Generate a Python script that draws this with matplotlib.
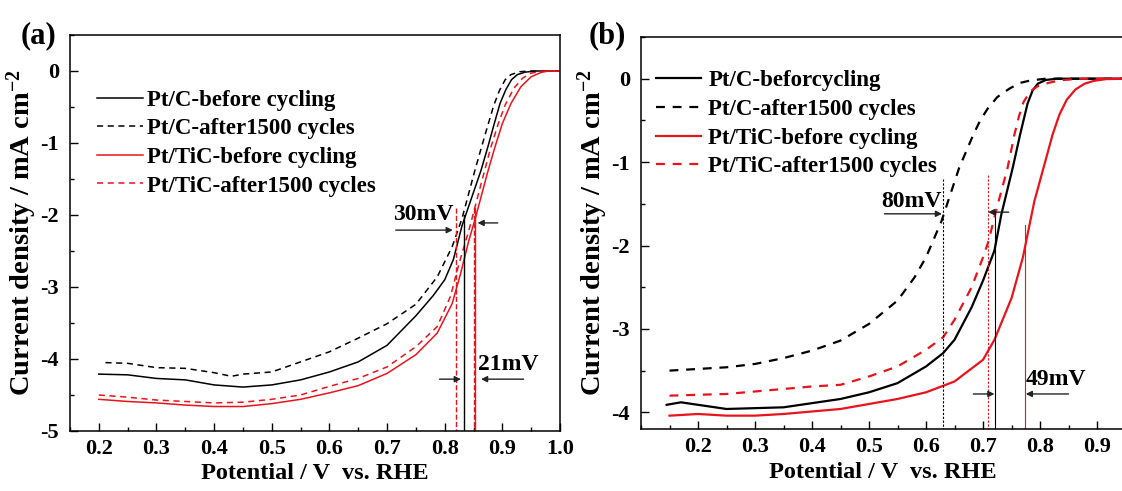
import matplotlib
matplotlib.use("Agg")
import matplotlib.pyplot as plt
from matplotlib.ticker import MultipleLocator

plt.rcParams['font.family'] = ['Liberation Serif', 'DejaVu Serif']
plt.rcParams['font.weight'] = 'bold'
plt.rcParams['mathtext.fontset'] = 'custom'
plt.rcParams['mathtext.rm'] = 'Liberation Serif:bold'
plt.rcParams['mathtext.bf'] = 'Liberation Serif:bold'
plt.rcParams['mathtext.default'] = 'rm'

RED = '#e8141c'

# ---------------- Panel (a) data ----------------
a_labels = ['Pt/C-before cycling', 'Pt/C-after1500 cycles',
            'Pt/TiC-before cycling', 'Pt/TiC-after1500 cycles']
a_pc_before_x = [0.20, 0.25, 0.30, 0.35, 0.40, 0.45, 0.50, 0.55, 0.60, 0.65, 0.70, 0.75,
                 0.78, 0.80, 0.815, 0.83, 0.845, 0.863, 0.875, 0.886, 0.896, 0.906, 0.916,
                 0.926, 0.94, 0.96, 1.00]
a_pc_before_y = [-4.21, -4.22, -4.27, -4.29, -4.36, -4.39, -4.36, -4.29, -4.18, -4.04, -3.81, -3.40,
                 -3.12, -2.90, -2.62, -2.15, -1.80, -1.38, -1.05, -0.73, -0.45, -0.26, -0.12,
                 -0.05, -0.015, 0.0, 0.0]
a_pc_after_x = [0.2115, 0.25, 0.30, 0.35, 0.40, 0.43, 0.45, 0.50, 0.55, 0.60, 0.65, 0.70, 0.75,
                0.787, 0.813, 0.83, 0.851, 0.863, 0.875, 0.885, 0.895, 0.905, 0.915, 0.93, 0.95, 1.00]
a_pc_after_y = [-4.05, -4.06, -4.12, -4.13, -4.19, -4.24, -4.21, -4.18, -4.04, -3.90, -3.71, -3.51, -3.24,
                -2.86, -2.44, -2.05, -1.42, -1.08, -0.75, -0.48, -0.27, -0.12, -0.05, -0.01, 0.0, 0.0]
a_ptc_before_x = [0.20, 0.25, 0.30, 0.35, 0.40, 0.45, 0.50, 0.55, 0.60, 0.65, 0.70, 0.75,
                  0.787, 0.813, 0.828, 0.842, 0.853, 0.874, 0.887, 0.90, 0.915, 0.932, 0.95,
                  0.967, 0.98, 1.00]
a_ptc_before_y = [-4.56, -4.59, -4.61, -4.64, -4.66, -4.66, -4.62, -4.56, -4.47, -4.37, -4.20, -3.94,
                  -3.64, -3.23, -2.80, -2.35, -2.05, -1.42, -1.06, -0.73, -0.45, -0.22, -0.08,
                  -0.02, 0.0, 0.0]
a_ptc_after_x = [0.20, 0.25, 0.30, 0.35, 0.40, 0.45, 0.50, 0.55, 0.60, 0.65, 0.70, 0.75,
                 0.787, 0.81, 0.825, 0.842, 0.868, 0.88, 0.893, 0.905, 0.92, 0.935, 0.95, 0.97, 1.00]
a_ptc_after_y = [-4.50, -4.53, -4.57, -4.59, -4.61, -4.60, -4.56, -4.50, -4.38, -4.27, -4.11, -3.83,
                 -3.55, -3.13, -2.67, -2.21, -1.42, -1.06, -0.73, -0.47, -0.24, -0.10, -0.03, 0.0, 0.0]
# half-wave potential markers (x, top y)
a_vlines = [(0.819, -1.9, RED, '--'), (0.834, -2.0, 'black', '-'),
            (0.850, -1.9, RED, '--'), (0.853, -1.9, RED, '-')]
a_xticks = [0.2, 0.3, 0.4, 0.5, 0.6, 0.7, 0.8, 0.9, 1.0]
a_yticks = [0, -1, -2, -3, -4, -5]

# ---------------- Panel (b) data ----------------
b_labels = ['Pt/C-beforcycling', 'Pt/C-after1500 cycles',
            'Pt/TiC-before cycling', 'Pt/TiC-after1500 cycles']
b_pc_before_x = [0.145, 0.17, 0.20, 0.25, 0.30, 0.35, 0.40, 0.45, 0.50, 0.55, 0.60, 0.63, 0.65,
                 0.68, 0.70, 0.72, 0.732, 0.752, 0.765, 0.778, 0.787, 0.796, 0.81, 0.83, 0.95]
b_pc_before_y = [-3.91, -3.88, -3.91, -3.96, -3.95, -3.94, -3.89, -3.84, -3.76, -3.65, -3.45, -3.29, -3.13,
                 -2.74, -2.42, -2.06, -1.63, -1.07, -0.67, -0.30, -0.14, -0.06, -0.015, 0.0, 0.0]
b_pc_after_x = [0.15, 0.20, 0.25, 0.30, 0.35, 0.40, 0.45, 0.50, 0.55, 0.58, 0.60, 0.627, 0.658,
                0.683, 0.695, 0.708, 0.725, 0.746, 0.765, 0.784, 0.81, 0.95]
b_pc_after_y = [-3.50, -3.48, -3.46, -3.42, -3.35, -3.26, -3.14, -2.94, -2.66, -2.38, -2.14, -1.71, -1.07,
                -0.67, -0.50, -0.36, -0.22, -0.12, -0.05, -0.02, 0.0, 0.0]
b_ptc_before_x = [0.15, 0.20, 0.25, 0.30, 0.35, 0.40, 0.45, 0.50, 0.55, 0.60, 0.65, 0.70, 0.72,
                  0.75, 0.77, 0.778, 0.790, 0.806, 0.822, 0.834, 0.847, 0.862, 0.878, 0.895,
                  0.916, 0.95]
b_ptc_before_y = [-4.04, -4.02, -4.04, -4.04, -4.02, -3.99, -3.96, -3.90, -3.84, -3.76, -3.63, -3.37, -3.13,
                  -2.63, -2.14, -1.87, -1.47, -1.07, -0.67, -0.43, -0.25, -0.13, -0.06, -0.025,
                  -0.005, 0.0]
b_ptc_after_x = [0.15, 0.20, 0.25, 0.30, 0.35, 0.40, 0.45, 0.50, 0.55, 0.60, 0.63, 0.65, 0.68,
                 0.70, 0.71, 0.721, 0.743, 0.755, 0.763, 0.771, 0.783, 0.796, 0.815, 0.834, 0.87, 0.95]
b_ptc_after_y = [-3.80, -3.79, -3.78, -3.75, -3.72, -3.69, -3.67, -3.57, -3.45, -3.25, -3.10, -2.89, -2.50,
                 -2.14, -1.94, -1.63, -1.07, -0.67, -0.45, -0.28, -0.15, -0.09, -0.05, -0.02, 0.0, 0.0]
b_vlines = [(0.630, -1.2, 'black', (0, (2, 1.5)), 0.8), (0.708, -1.15, RED, (0, (2, 1.5)), 0.8),
            (0.721, -1.6, 'black', '-', 0.8), (0.773, -1.75, RED, '-', 0.8)]
b_xticks = [0.2, 0.3, 0.4, 0.5, 0.6, 0.7, 0.8, 0.9]
b_yticks = [0, -1, -2, -3, -4]

W, H = 1122, 491
fig = plt.figure(figsize=(W / 100, H / 100), dpi=100)

axa = fig.add_axes([70 / W, 1 - 431 / H, (560 - 70) / W, (431 - 35) / H])
axb = fig.add_axes([641 / W, 1 - 429 / H, (1125 - 641) / W, (429 - 37) / H])


def style(ax, xticks, yticks):
    for s in ax.spines.values():
        s.set_linewidth(1.1)
    ax.set_xticks(xticks)
    ax.set_yticks(yticks)
    ax.xaxis.set_minor_locator(MultipleLocator(0.05))
    ax.yaxis.set_minor_locator(MultipleLocator(0.5))
    ax.tick_params(which='major', direction='in', length=5.5, width=1.0,
                   labelsize=16, top=False, right=False)
    ax.tick_params(which='minor', direction='in', length=3, width=1.0,
                   top=False, right=False)
    ax.tick_params(axis='y', pad=8)
    ax.tick_params(axis='x', pad=6)
    ax.set_xticklabels([f'{v:.1f}' for v in xticks], fontweight='bold')
    ax.set_yticklabels([f'{v:g}' for v in yticks], fontweight='bold')
    ax.set_xlabel('Potential / V  vs. RHE', fontsize=17.5, fontweight='bold', labelpad=3)
    ax.set_ylabel(r'Current density / mA cm$^{-2}$', fontsize=20.5, fontweight='bold', labelpad=1)


arrow_kw = dict(arrowstyle='-|>', color='#222222', lw=1.0, mutation_scale=9,
                shrinkA=0, shrinkB=0)
LEG_PROP = {'weight': 'bold', 'size': 16.5}
ANN = 17

# ---------- Panel a ----------
lwa = 1.1
axa.plot(a_pc_before_x, a_pc_before_y, color='black', lw=lwa, label=a_labels[0])
axa.plot(a_pc_after_x, a_pc_after_y, color='black', lw=lwa, ls=(0, (4, 3)), label=a_labels[1])
axa.plot(a_ptc_before_x, a_ptc_before_y, color=RED, lw=lwa, label=a_labels[2])
axa.plot(a_ptc_after_x, a_ptc_after_y, color=RED, lw=lwa, ls=(0, (4, 3)), label=a_labels[3])
for x, ytop, c, ls in a_vlines:
    axa.plot([x, x], [ytop, -5.0], color=c, ls=ls, lw=1.0)
axa.set_xlim(0.15, 1.0)
axa.set_ylim(-5.0, 0.5)
style(axa, a_xticks, a_yticks)
axa.legend(loc='upper left', bbox_to_anchor=(0.055, 0.862), frameon=False,
           handlelength=2.0, handletextpad=0.2, labelspacing=0.33, borderpad=0,
           borderaxespad=0, prop=LEG_PROP)
axa.text(0.763, -2.0, '30mV', fontsize=ANN, fontweight='bold', ha='center', va='center')
axa.annotate('', xy=(0.814, -2.21), xytext=(0.715, -2.21), arrowprops=arrow_kw)
axa.annotate('', xy=(0.857, -2.11), xytext=(0.892, -2.11), arrowprops=arrow_kw)
axa.text(0.911, -4.08, '21mV', fontsize=ANN, fontweight='bold', ha='center', va='center')
axa.annotate('', xy=(0.828, -4.28), xytext=(0.791, -4.28), arrowprops=arrow_kw)
axa.annotate('', xy=(0.863, -4.28), xytext=(0.937, -4.28), arrowprops=arrow_kw)

# ---------- Panel b ----------
lwb = 1.6
axb.plot(b_pc_before_x, b_pc_before_y, color='black', lw=lwb, label=b_labels[0])
axb.plot(b_pc_after_x, b_pc_after_y, color='black', lw=lwb, ls=(0, (4, 3.5)), label=b_labels[1])
axb.plot(b_ptc_before_x, b_ptc_before_y, color=RED, lw=lwb, label=b_labels[2])
axb.plot(b_ptc_after_x, b_ptc_after_y, color=RED, lw=lwb, ls=(0, (4, 3.5)), label=b_labels[3])
for x, ytop, c, ls, lw in b_vlines:
    axb.plot([x, x], [ytop, -4.2], color=c, ls=ls, lw=lw)
axb.set_xlim(0.1, 0.949)
axb.set_ylim(-4.2, 0.5)
style(axb, b_xticks, b_yticks)
axb.legend(loc='upper left', bbox_to_anchor=(0.03, 0.915), frameon=False,
           handlelength=2.0, handletextpad=0.3, labelspacing=0.33, borderpad=0,
           borderaxespad=0, prop=LEG_PROP)
axb.text(0.574, -1.47, '80mV', fontsize=ANN, fontweight='bold', ha='center', va='center')
axb.annotate('', xy=(0.628, -1.62), xytext=(0.527, -1.62), arrowprops=arrow_kw)
axb.annotate('', xy=(0.709, -1.60), xytext=(0.745, -1.60), arrowprops=arrow_kw)
axb.text(0.828, -3.61, '49mV', fontsize=ANN, fontweight='bold', ha='center', va='center')
axb.annotate('', xy=(0.720, -3.78), xytext=(0.683, -3.78), arrowprops=arrow_kw)
axb.annotate('', xy=(0.775, -3.78), xytext=(0.85, -3.78), arrowprops=arrow_kw)

fig.text(38 / W, 1 - 36 / H, '(a)', fontsize=22, fontweight='bold', ha='center', va='center')
fig.text(607 / W, 1 - 36 / H, '(b)', fontsize=22, fontweight='bold', ha='center', va='center')

fig.savefig('out.png', dpi=100)
